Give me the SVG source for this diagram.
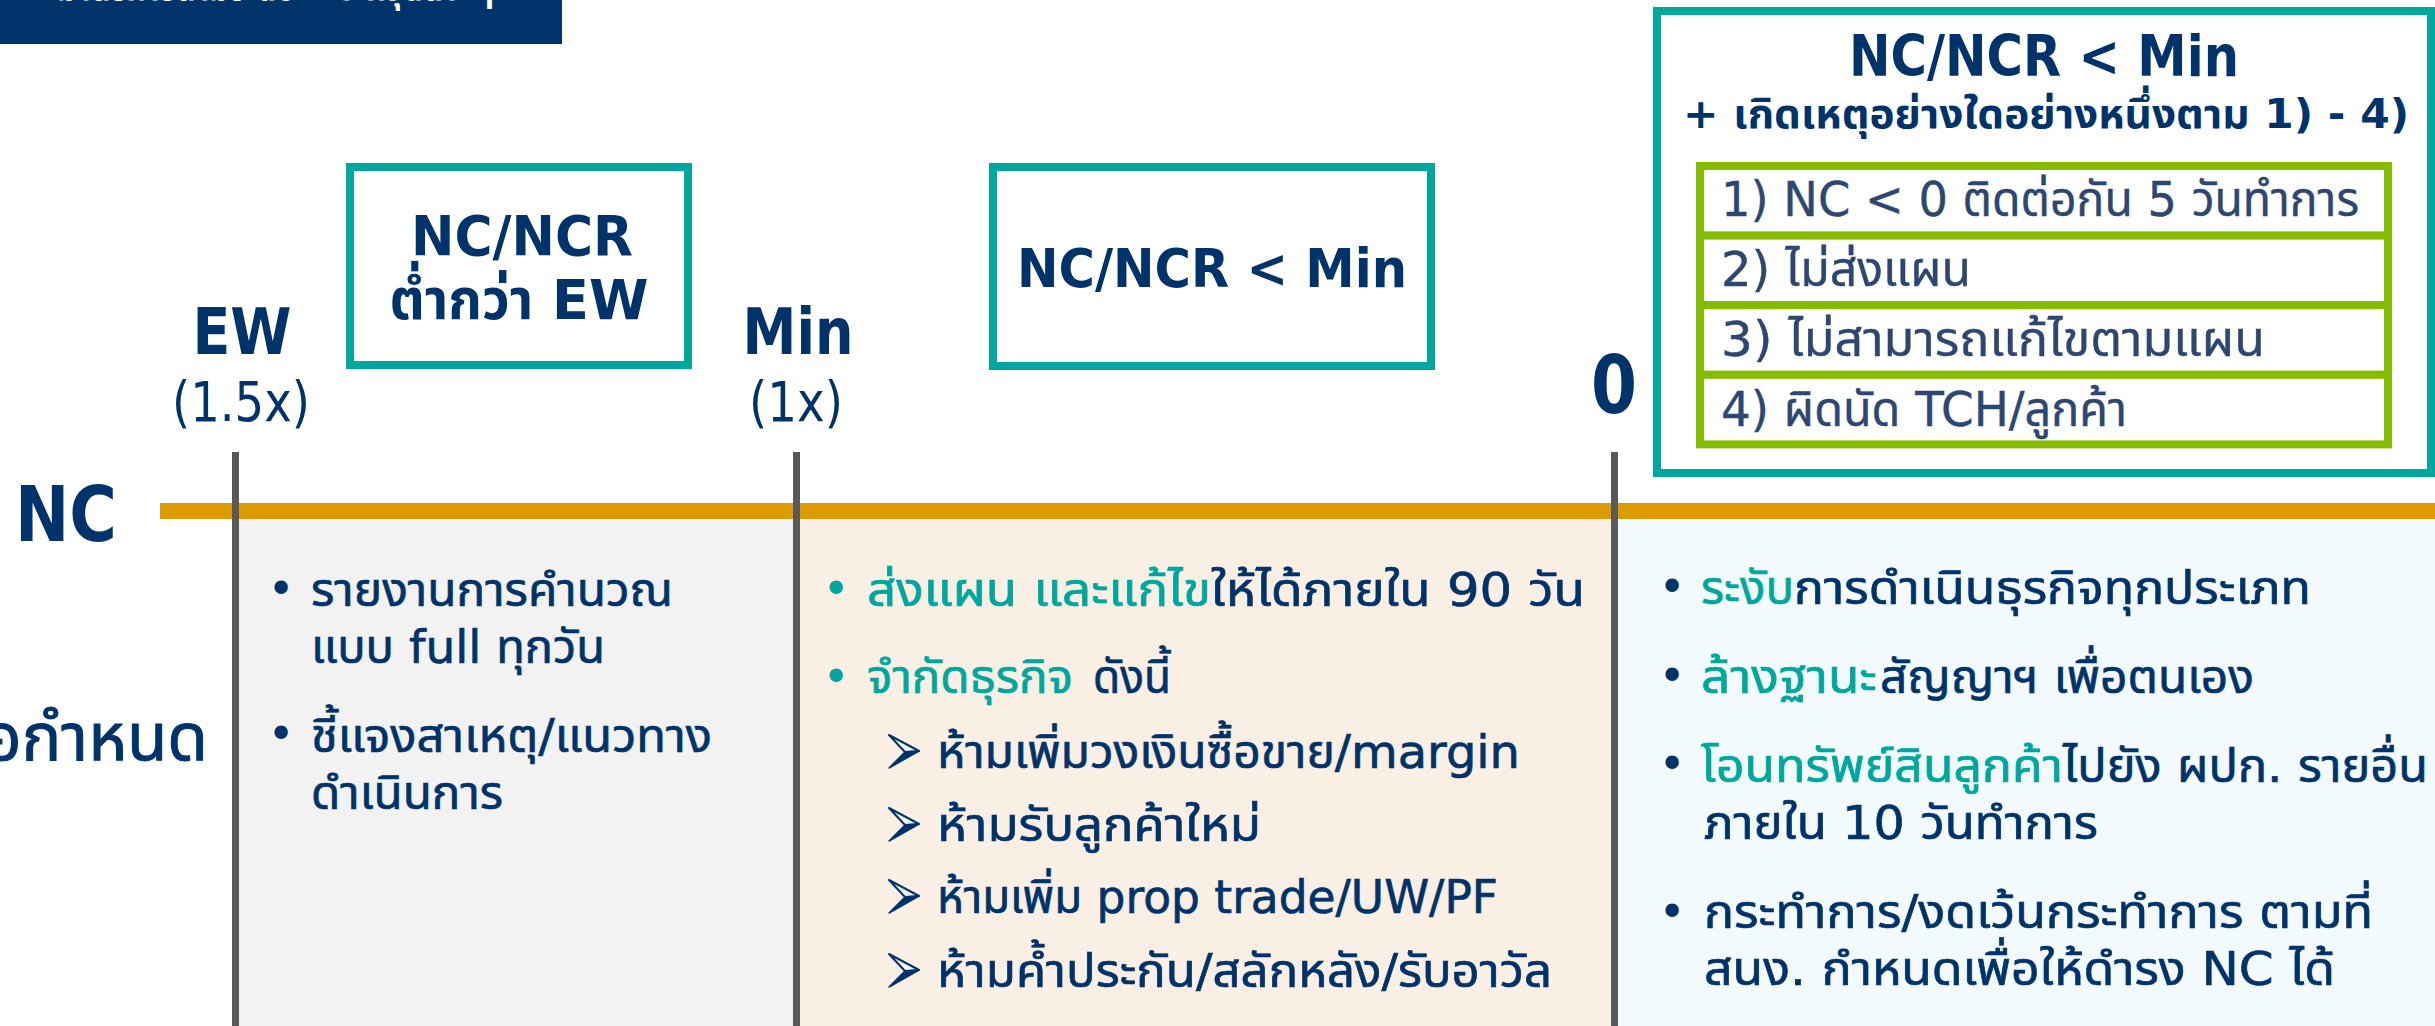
<svg xmlns="http://www.w3.org/2000/svg" width="2435" height="1026" viewBox="0 0 2435 1026">
<style>
text{font-family:"DejaVu Sans","Noto Sans Thai","Noto Sans",sans-serif}
.nv{fill:#00336A;stroke:#00336A;stroke-width:0}
.tl{fill:#00A79D;stroke:#00A79D;stroke-width:0}
.sl{fill:#2E4770;stroke:#2E4770;stroke-width:0}
.b{font-weight:bold}
.body{font-size:47px;stroke-width:0.7px}
.row{font-size:48px;stroke-width:0.4px}
.bx{fill:#FFFFFF;stroke:#00A79D;stroke-width:8}
.gr{fill:#FFFFFF;stroke:#84BD00;stroke-width:8}
.tick{fill:#595959}
.bul{font-size:46px;text-anchor:middle}
.m{text-anchor:middle}
</style>
<defs>
<g id="arrowhead">
<polygon points="0,-33 30,-17 16,-16" fill="#F4F6FA" stroke="#00336A" stroke-width="2" stroke-linejoin="round"/>
<polygon points="16,-16 30,-17 0,0" fill="#00336A" stroke="#00336A" stroke-width="1.5" stroke-linejoin="round"/>
</g>
</defs>
<rect width="2435" height="1026" fill="#FFFFFF"/>
<g id="panels">
<rect x="235" y="519" width="561" height="507" fill="#F2F2F2"/>
<rect x="796" y="519" width="818" height="507" fill="#FAEFE5"/>
<rect x="1614" y="519" width="821" height="507" fill="#F3FAFD"/>
</g>
<g id="banner">
<rect x="0" y="0" width="562" height="44" fill="#00336A"/>
<text x="57" y="0" font-size="40" class="b" fill="#FFFFFF" textLength="437" lengthAdjust="spacingAndGlyphs">มาตรการตามระดับ NC ที่จุดต่างๆ</text>
</g>
<g id="connectors">
<rect x="160" y="503" width="2275" height="16" fill="#DC9B00"/>
<rect class="tick" x="232" y="452" width="7" height="574"/>
<rect class="tick" x="793" y="452" width="7" height="574"/>
<rect class="tick" x="1611" y="452" width="7" height="574"/>
</g>
<g id="axis-labels">
<text class="nv b" x="15" y="541" font-size="76" textLength="102" lengthAdjust="spacingAndGlyphs">NC</text>
<text class="nv" x="208" y="760" font-size="66" text-anchor="end" style="stroke-width:1px">อกำหนด</text>
</g>
<g id="mark-ew">
<text class="nv b m" x="242" y="354" font-size="64" textLength="99" lengthAdjust="spacingAndGlyphs">EW</text>
<text class="nv m" x="241" y="421" font-size="56" textLength="138" lengthAdjust="spacingAndGlyphs">(1.5x)</text>
</g>
<g id="mark-min">
<text class="nv b m" x="798" y="354" font-size="64" textLength="111" lengthAdjust="spacingAndGlyphs">Min</text>
<text class="nv m" x="796" y="421" font-size="56" textLength="94" lengthAdjust="spacingAndGlyphs">(1x)</text>
</g>
<g id="mark-zero">
<text class="nv b m" x="1614" y="413" font-size="80" textLength="46" lengthAdjust="spacingAndGlyphs">0</text>
</g>
<g id="box-ew">
<rect class="bx" x="350" y="167" width="338" height="198"/>
<text class="nv b m" x="522" y="255" font-size="55" textLength="222" lengthAdjust="spacingAndGlyphs">NC/NCR</text>
<text class="nv b m" x="519" y="319" font-size="56" textLength="259" lengthAdjust="spacingAndGlyphs">ต่ำกว่า EW</text>
</g>
<g id="box-min">
<rect class="bx" x="993" y="167" width="438" height="199"/>
<text class="nv b m" x="1212" y="287" font-size="54" textLength="390" lengthAdjust="spacingAndGlyphs">NC/NCR &lt; Min</text>
</g>
<g id="box-zero">
<rect class="bx" x="1657" y="11" width="774" height="462"/>
<text class="nv b m" x="2044" y="76" font-size="57" textLength="390" lengthAdjust="spacingAndGlyphs">NC/NCR &lt; Min</text>
<text class="nv b m" x="2046" y="128" font-size="41" textLength="726" lengthAdjust="spacingAndGlyphs">+ เกิดเหตุอย่างใดอย่างหนึ่งตาม 1) - 4)</text>
<g id="cond-1"><rect class="gr" x="1700" y="166" width="688" height="69.6"/>
<text class="sl row" x="1721" y="216" textLength="638" lengthAdjust="spacingAndGlyphs">1) NC &lt; 0 ติดต่อกัน 5 วันทำการ</text></g>
<g id="cond-2"><rect class="gr" x="1700" y="235.6" width="688" height="69.6"/>
<text class="sl row" x="1721" y="286" textLength="250" lengthAdjust="spacingAndGlyphs">2) ไม่ส่งแผน</text></g>
<g id="cond-3"><rect class="gr" x="1700" y="305.2" width="688" height="69.6"/>
<text class="sl row" x="1721" y="356" textLength="544" lengthAdjust="spacingAndGlyphs">3) ไม่สามารถแก้ไขตามแผน</text></g>
<g id="cond-4"><rect class="gr" x="1700" y="374.8" width="688" height="69.6"/>
<text class="sl row" x="1721" y="426" textLength="406" lengthAdjust="spacingAndGlyphs">4) ผิดนัด TCH/ลูกค้า</text></g>
</g>
<g id="panel-ew">
<text class="nv bul" x="281" y="605">•</text>
<text class="nv body" x="311" y="606" textLength="362" lengthAdjust="spacingAndGlyphs">รายงานการคำนวณ</text>
<text class="nv body" x="311" y="663" textLength="294" lengthAdjust="spacingAndGlyphs">แบบ full ทุกวัน</text>
<text class="nv bul" x="281" y="750">•</text>
<text class="nv body" x="311" y="752" textLength="401" lengthAdjust="spacingAndGlyphs">ชี้แจงสาเหตุ/แนวทาง</text>
<text class="nv body" x="311" y="809" textLength="192" lengthAdjust="spacingAndGlyphs">ดำเนินการ</text>
</g>
<g id="panel-min">
<text class="tl bul" x="836" y="605">•</text>
<text class="tl body" x="867" y="606" textLength="344" lengthAdjust="spacingAndGlyphs">ส่งแผน และแก้ไข</text>
<text class="nv body" x="1211" y="606" textLength="374" lengthAdjust="spacingAndGlyphs">ให้ได้ภายใน 90 วัน</text>
<text class="tl bul" x="836" y="693">•</text>
<text class="tl body" x="867" y="693" textLength="206" lengthAdjust="spacingAndGlyphs">จำกัดธุรกิจ</text>
<text class="nv body" x="1093" y="693" textLength="78" lengthAdjust="spacingAndGlyphs">ดังนี้</text>
<use href="#arrowhead" x="889" y="768"/>
<text class="nv body" x="937" y="768" textLength="583" lengthAdjust="spacingAndGlyphs">ห้ามเพิ่มวงเงินซื้อขาย/margin</text>
<use href="#arrowhead" x="889" y="841"/>
<text class="nv body" x="937" y="841" textLength="324" lengthAdjust="spacingAndGlyphs">ห้ามรับลูกค้าใหม่</text>
<use href="#arrowhead" x="889" y="913"/>
<text class="nv body" x="937" y="913" textLength="561" lengthAdjust="spacingAndGlyphs">ห้ามเพิ่ม prop trade/UW/PF</text>
<use href="#arrowhead" x="889" y="987"/>
<text class="nv body" x="937" y="987" textLength="615" lengthAdjust="spacingAndGlyphs">ห้ามค้ำประกัน/สลักหลัง/รับอาวัล</text>
</g>
<g id="panel-zero">
<text class="nv bul" x="1672" y="603">•</text>
<text class="tl body" x="1701" y="604" textLength="93" lengthAdjust="spacingAndGlyphs">ระงับ</text>
<text class="nv body" x="1794" y="604" textLength="517" lengthAdjust="spacingAndGlyphs">การดำเนินธุรกิจทุกประเภท</text>
<text class="nv bul" x="1672" y="692">•</text>
<text class="tl body" x="1701" y="693" textLength="176" lengthAdjust="spacingAndGlyphs">ล้างฐานะ</text>
<text class="nv body" x="1880" y="693" textLength="374" lengthAdjust="spacingAndGlyphs">สัญญาฯ เพื่อตนเอง</text>
<text class="nv bul" x="1672" y="780">•</text>
<text class="tl body" x="1701" y="782" textLength="362" lengthAdjust="spacingAndGlyphs">โอนทรัพย์สินลูกค้า</text>
<text class="nv body" x="2063" y="782" textLength="365" lengthAdjust="spacingAndGlyphs">ไปยัง ผปก. รายอื่น</text>
<text class="nv body" x="1704" y="839" textLength="394" lengthAdjust="spacingAndGlyphs">ภายใน 10 วันทำการ</text>
<text class="nv bul" x="1672" y="928">•</text>
<text class="nv body" x="1704" y="928" textLength="669" lengthAdjust="spacingAndGlyphs">กระทำการ/งดเว้นกระทำการ ตามที่</text>
<text class="nv body" x="1704" y="985" textLength="631" lengthAdjust="spacingAndGlyphs">สนง. กำหนดเพื่อให้ดำรง NC ได้</text>
</g>
</svg>
